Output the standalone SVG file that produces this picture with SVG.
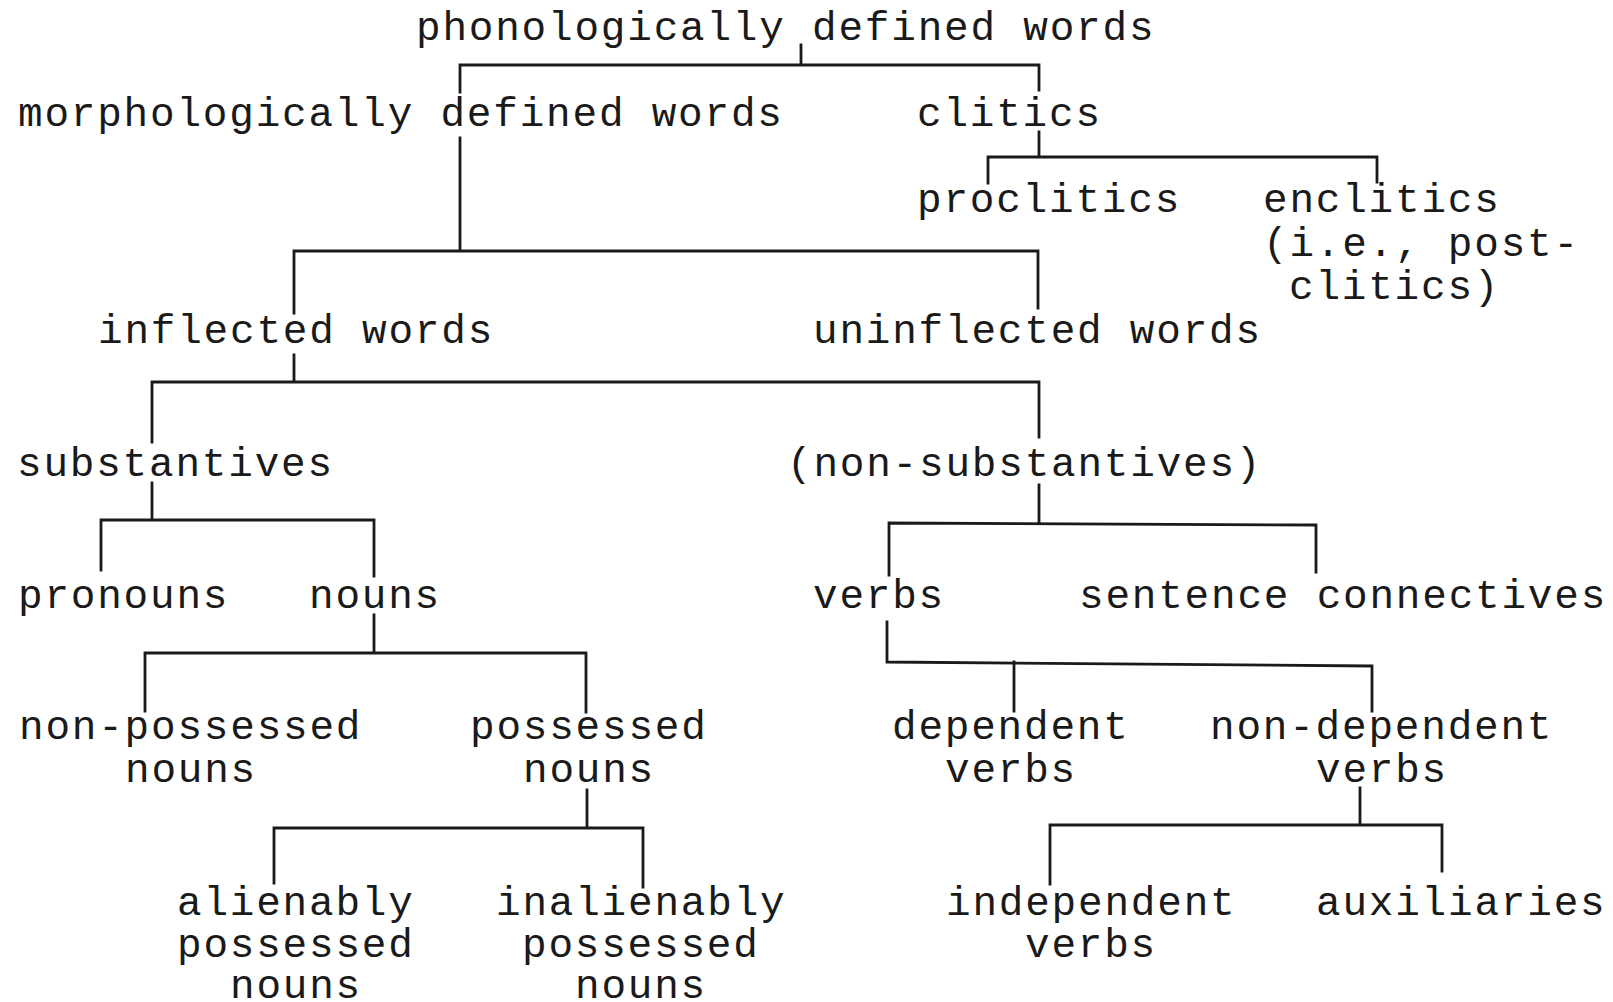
<svg xmlns="http://www.w3.org/2000/svg" width="1613" height="1002" viewBox="0 0 1613 1002">
<style>
text{font-family:"Liberation Mono","Courier New",monospace;font-size:41px;letter-spacing:1.8px;fill:#1a1a1a}
.c path{fill:none;stroke:#1a1a1a;stroke-width:2.8;stroke-linecap:square;stroke-linejoin:miter}
</style>
<rect width="1613" height="1002" fill="#fff"/>
<g class="c" id="connectors">
<path d="M801 45V65M460 92V65H1039V90"/>
<path d="M1039 132V157M988 183V157H1377V182"/>
<path d="M460 138V251M294 313V251H1038V308"/>
<path d="M294 355V382M152 442V382H1039V437"/>
<path d="M152 483V520M101 570V520H374V576"/>
<path d="M1039 485V523M889 575V523L1316 525V572"/>
<path d="M374 615V653M145 711V653H586V712"/>
<path d="M887 622V662L1372 666V711M1014 662V711"/>
<path d="M587 790V828M274 883V828H643V887"/>
<path d="M1360 788V825M1050 884V825H1442V871"/>
</g>
<g id="n-phon"><text x="416" y="40">phonologically defined words</text></g>
<g id="n-morph"><text x="18" y="126">morphologically defined words</text></g>
<g id="n-clitics"><text x="917" y="126">clitics</text></g>
<g id="n-proclitics"><text x="917" y="212">proclitics</text></g>
<g id="n-enclitics"><text x="1263" y="212">enclitics<tspan x="1263" y="256">(i.e., post-</tspan><tspan x="1289" y="299">clitics)</tspan></text></g>
<g id="n-inflected"><text x="98" y="343">inflected words</text></g>
<g id="n-uninflected"><text x="813" y="343">uninflected words</text></g>
<g id="n-substantives"><text x="17" y="476">substantives</text></g>
<g id="n-nonsubst"><text x="787" y="476">(non-substantives)</text></g>
<g id="n-pronouns"><text x="18" y="608">pronouns</text></g>
<g id="n-nouns"><text x="309" y="608">nouns</text></g>
<g id="n-verbs"><text x="813" y="608">verbs</text></g>
<g id="n-sentconn"><text x="1079" y="608">sentence connectives</text></g>
<g id="n-nonposs"><text x="19" y="739">non-possessed<tspan x="125" y="782">nouns</tspan></text></g>
<g id="n-poss"><text x="470" y="739">possessed<tspan x="523" y="782">nouns</tspan></text></g>
<g id="n-dep"><text x="892" y="739">dependent<tspan x="945" y="782">verbs</tspan></text></g>
<g id="n-nondep"><text x="1210" y="739">non-dependent<tspan x="1316" y="782">verbs</tspan></text></g>
<g id="n-alien"><text x="177" y="915">alienably<tspan x="177" y="957">possessed</tspan><tspan x="230" y="998">nouns</tspan></text></g>
<g id="n-inalien"><text x="496" y="915">inalienably<tspan x="522" y="957">possessed</tspan><tspan x="575" y="998">nouns</tspan></text></g>
<g id="n-indep"><text x="946" y="915">independent<tspan x="1025" y="957">verbs</tspan></text></g>
<g id="n-aux"><text x="1316" y="915">auxiliaries</text></g>
</svg>
